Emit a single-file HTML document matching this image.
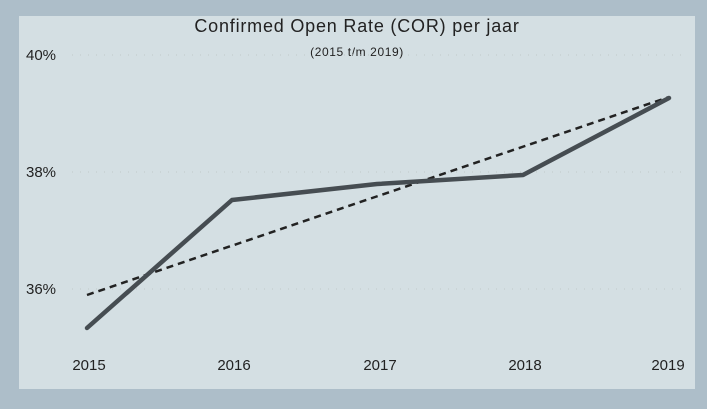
<!DOCTYPE html>
<html><head><style>
body{margin:0;width:707px;height:404px;background:#adbec9;overflow:hidden;font-family:"Liberation Sans",sans-serif}
</style></head><body>
<svg width="707" height="404" xmlns="http://www.w3.org/2000/svg">
<rect x="19" y="16" width="676" height="373" fill="#d4dfe3"/>
<text x="357" y="32" text-anchor="middle" font-size="18" letter-spacing="0.8" fill="#222">Confirmed Open Rate (COR) per jaar</text>
<text x="357" y="56" text-anchor="middle" font-size="12" letter-spacing="0.6" fill="#222">(2015 t/m 2019)</text>
<g stroke="#bfc8c8" stroke-dasharray="1 7" stroke-width="1">
<line x1="72" y1="55" x2="685" y2="55"/>
<line x1="72" y1="172" x2="685" y2="172"/>
<line x1="72" y1="289" x2="685" y2="289"/>
</g>
<g font-size="15" fill="#222">
<text x="26" y="60">40%</text>
<text x="26" y="177">38%</text>
<text x="26" y="294">36%</text>
</g>
<g font-size="15" fill="#222" text-anchor="middle">
<text x="89" y="370">2015</text>
<text x="234" y="370">2016</text>
<text x="380" y="370">2017</text>
<text x="525" y="370">2018</text>
<text x="668" y="370">2019</text>
</g>
<line x1="87" y1="295" x2="669" y2="97" stroke="#222" stroke-width="2.5" stroke-dasharray="7 5"/>
<polyline points="87,328 232,200 377,184 523,175 669,98" fill="none" stroke="#464d52" stroke-width="4.5" stroke-linejoin="round" stroke-linecap="round"/>
</svg>
</body></html>
